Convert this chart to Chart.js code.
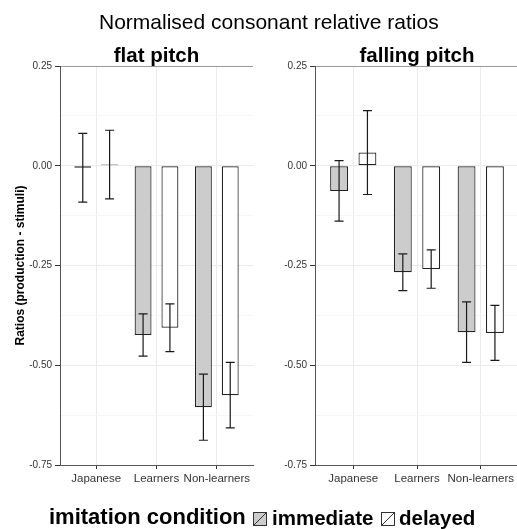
<!DOCTYPE html>
<html>
<head>
<meta charset="utf-8">
<script src="https://cdn.jsdelivr.net/npm/chart.js@4.4.0/dist/chart.umd.min.js"></script>
<style>
  body { margin: 0; background: #fff; font-family: 'Liberation Sans', Arial, sans-serif; }
  #wrap { position: relative; width: 517px; height: 529px; overflow: hidden; background: #fff; }
  canvas { position: absolute; top: 0; }
  #mainTitle { position: absolute; left: 99px; top: 10.5px; font-size: 21px; line-height: 21px; white-space: nowrap; color: #000; }
  .leg { position: absolute; font-weight: bold; white-space: nowrap; line-height: 24px; color: #000; }
  .key { position: absolute; top: 512px; }
</style>
</head>
<body>
<div id="wrap">
  <canvas id="flatChart" width="258" height="529" style="left:0"></canvas>
  <canvas id="fallingChart" width="262" height="529" style="left:258px"></canvas>
  <div id="mainTitle">Normalised consonant relative ratios</div>
  <div class="leg" style="left:49px; top:505px; font-size:22px">imitation condition</div>
  <svg class="key" style="left:253px" width="14" height="14"><rect x="0.5" y="0.5" width="13" height="13" fill="#cccccc" stroke="#333"/><line x1="1" y1="13" x2="13" y2="1" stroke="#333"/></svg>
  <div class="leg" style="left:272px; top:506px; font-size:20.5px">immediate</div>
  <svg class="key" style="left:381px" width="14" height="14"><rect x="0.5" y="0.5" width="13" height="13" fill="#ffffff" stroke="#333"/><line x1="1" y1="13" x2="13" y2="1" stroke="#333"/></svg>
  <div class="leg" style="left:399px; top:506px; font-size:20.5px">delayed</div>
</div>
<script>
// categories
const groups = ['Japanese', 'Learners', 'Non-learners'];

// flat pitch panel: means and error half-widths
const flatImmediate = [-0.005, -0.424, -0.605];
const flatImmediateErr = [0.086, 0.053, 0.083];
const flatDelayed = [0.003, -0.406, -0.575];
const flatDelayedErr = [0.086, 0.060, 0.082];

// falling pitch panel
const fallingImmediate = [-0.063, -0.267, -0.417];
const fallingImmediateErr = [0.076, 0.046, 0.076];
const fallingDelayed = [0.033, -0.259, -0.419];
const fallingDelayedErr = [0.105, 0.048, 0.069];

// y axis ticks (major labelled, minor only gridlines)
const yTickValues = [-0.75, -0.625, -0.5, -0.375, -0.25, -0.125, 0, 0.125, 0.25];
const yMajorValues = [-0.75, -0.5, -0.25, 0, 0.25];
const yTickLabels = ['-0.75', '-0.50', '-0.25', '0.00', '0.25'];

const FONT = "'Liberation Sans', Arial, sans-serif";
Chart.defaults.font.family = FONT;

// error bars drawn from the dataset values through the y scale
const errorBarPlugin = {
    id: 'errorBars',
    afterDatasetsDraw(chart) {
        const ctx = chart.ctx;
        const yScale = chart.scales.y;
        chart.data.datasets.forEach((ds, i) => {
            const meta = chart.getDatasetMeta(i);
            meta.data.forEach((bar, j) => {
                const v = ds.data[j].y;
                const e = ds.errors[j];
                const top = yScale.getPixelForValue(v + e);
                const bottom = yScale.getPixelForValue(v - e);
                ctx.save();
                ctx.strokeStyle = '#1a1a1a';
                ctx.lineWidth = 1.2;
                ctx.beginPath();
                ctx.moveTo(bar.x, top);
                ctx.lineTo(bar.x, bottom);
                ctx.moveTo(bar.x - 4.5, top);
                ctx.lineTo(bar.x + 4.5, top);
                ctx.moveTo(bar.x - 4.5, bottom);
                ctx.lineTo(bar.x + 4.5, bottom);
                ctx.stroke();
                ctx.restore();
            });
        });
    }
};

// panel title centred over the plot area
const panelTitlePlugin = {
    id: 'panelTitle',
    afterDraw(chart, args, opts) {
        const {ctx, chartArea} = chart;
        ctx.save();
        ctx.font = 'bold 20.5px ' + FONT;
        ctx.fillStyle = '#000';
        ctx.textAlign = 'center';
        ctx.textBaseline = 'alphabetic';
        ctx.fillText(opts.text, (chartArea.left + chartArea.right) / 2, 62);
        ctx.restore();
    }
};

function makePanel(canvasId, title, immediate, immediateErr, delayed, delayedErr, showYTitle, yWidth, padRight) {
    const ctx = document.getElementById(canvasId).getContext('2d');
    return new Chart(ctx, {
        type: 'bar',
        data: {
            datasets: [
                {
                    label: 'immediate',
                    data: immediate.map((v, i) => ({x: i + 1, y: v})),
                    errors: immediateErr,
                    backgroundColor: '#cccccc'
                },
                {
                    label: 'delayed',
                    data: delayed.map((v, i) => ({x: i + 1, y: v})),
                    errors: delayedErr,
                    backgroundColor: '#ffffff'
                }
            ]
        },
        options: {
            responsive: false,
            animation: false,
            layout: {
                padding: { top: 66, right: padRight, bottom: 44, left: 0 }
            },
            datasets: {
                bar: {
                    categoryPercentage: 0.89,
                    barPercentage: 0.63,
                    borderWidth: 1.2,
                    borderColor: '#222222',
                    borderSkipped: false
                }
            },
            plugins: {
                legend: { display: false },
                tooltip: { enabled: false },
                panelTitle: { text: title }
            },
            scales: {
                x: {
                    type: 'linear',
                    min: 0.4,
                    max: 3.6,
                    offset: false,
                    afterBuildTicks: axis => {
                        axis.ticks = groups.map((g, i) => ({value: i + 1}));
                    },
                    afterFit: axis => { axis.height = 20; },
                    grid: {
                        offset: false,
                        color: '#ebebeb',
                        tickColor: '#333',
                        tickLength: 4
                    },
                    border: { color: '#555' },
                    ticks: {
                        callback: v => groups[v - 1],
                        font: { size: 11.5 },
                        color: '#333',
                        padding: 3,
                        maxRotation: 0,
                        autoSkip: false
                    }
                },
                y: {
                    min: -0.75,
                    max: 0.25,
                    afterBuildTicks: axis => {
                        axis.ticks = yTickValues.map(v => ({value: v}));
                    },
                    afterFit: axis => { axis.width = yWidth; },
                    grid: {
                        color: c => {
                            const v = c.tick ? c.tick.value : 0;
                            if (v === 0.25) return '#999999';
                            return yMajorValues.includes(v) ? '#ebebeb' : '#f6f6f6';
                        },
                        tickColor: c => (c.tick && yMajorValues.includes(c.tick.value)) ? '#333' : 'rgba(0,0,0,0)',
                        tickLength: 5
                    },
                    border: { color: '#555' },
                    ticks: {
                        callback: v => {
                            const k = yMajorValues.indexOf(v);
                            return k >= 0 ? yTickLabels[k] : '';
                        },
                        font: { size: 10 },
                        color: '#333',
                        padding: 3,
                        autoSkip: false
                    },
                    title: {
                        display: showYTitle,
                        text: 'Ratios (production - stimuli)',
                        font: { size: 12, weight: 'bold' },
                        color: '#000',
                        padding: { top: 13, bottom: 0 }
                    }
                }
            }
        },
        plugins: [errorBarPlugin, panelTitlePlugin]
    });
}

makePanel('flatChart', 'flat pitch', flatImmediate, flatImmediateErr, flatDelayed, flatDelayedErr, true, 60, 5);
makePanel('fallingChart', 'falling pitch', fallingImmediate, fallingImmediateErr, fallingDelayed, fallingDelayedErr, false, 57, 1);
</script>
</body>
</html>
